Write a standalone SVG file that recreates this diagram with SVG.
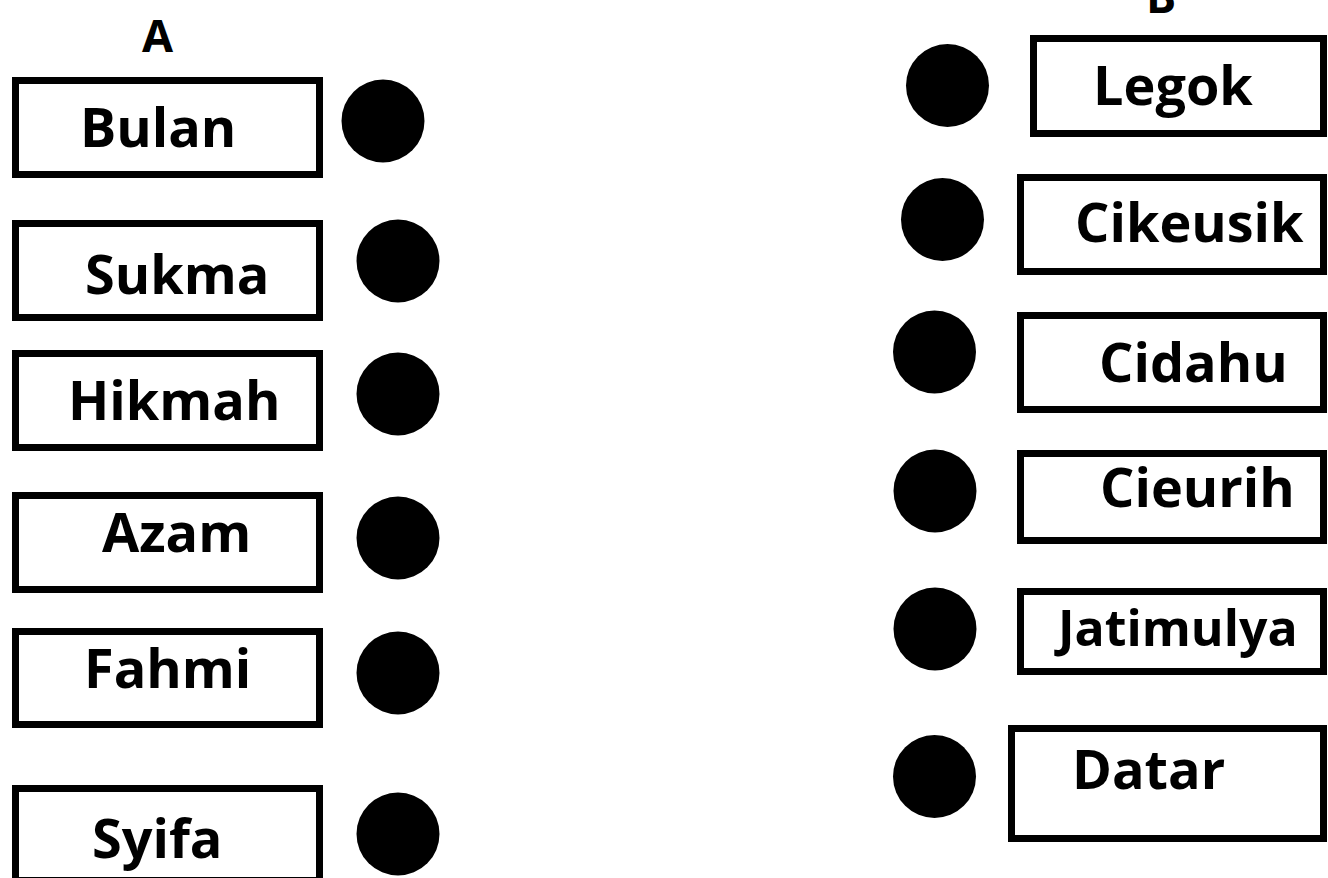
<svg xmlns="http://www.w3.org/2000/svg" width="1328" height="878" viewBox="0 0 1328 878">
<style>
.box{fill:#fff;stroke:#000;stroke-width:7}
.dot{fill:#000}
.lbl{font-family:"Open Sans","Liberation Sans",sans-serif;font-weight:700;font-size:54px;fill:#000}
.hdr{font-family:"Open Sans","Liberation Sans",sans-serif;font-weight:700;font-size:45px;fill:#000;text-anchor:middle}
</style>
<rect width="1328" height="878" fill="#fff"/>
<text class="hdr" x="157.5" y="52">A</text>
<text class="hdr" x="1161" y="13">B</text>
<g id="connectors"></g>
<g id="a-bulan"><rect class="box" x="15.5" y="80.5" width="304" height="94"/><text class="lbl" x="80" y="147">Bulan</text><circle class="dot" cx="383" cy="121" r="41.5"/></g>
<g id="a-sukma"><rect class="box" x="15.5" y="223.5" width="304" height="94"/><text class="lbl" x="85" y="294">Sukma</text><circle class="dot" cx="398" cy="261" r="41.5"/></g>
<g id="a-hikmah"><rect class="box" x="15.5" y="353.5" width="304" height="94"/><text class="lbl" x="68" y="420">Hikmah</text><circle class="dot" cx="398" cy="394" r="41.5"/></g>
<g id="a-azam"><rect class="box" x="15.5" y="495.5" width="304" height="94"/><text class="lbl" x="102" y="552">Azam</text><circle class="dot" cx="398" cy="538" r="41.5"/></g>
<g id="a-fahmi"><rect class="box" x="15.5" y="631.5" width="304" height="93"/><text class="lbl" x="84" y="688">Fahmi</text><circle class="dot" cx="398" cy="673" r="41.5"/></g>
<g id="a-syifa"><rect class="box" x="15.5" y="788.5" width="304" height="92"/><text class="lbl" x="92" y="858">Syifa</text><circle class="dot" cx="398" cy="834" r="41.5"/></g>
<g id="b-legok"><rect class="box" x="1033.5" y="38.5" width="290" height="95"/><text class="lbl" x="1093" y="105">Legok</text><circle class="dot" cx="947.5" cy="85.5" r="41.5"/></g>
<g id="b-cikeusik"><rect class="box" x="1020.5" y="177.5" width="303" height="94"/><text class="lbl" x="1075" y="242">Cikeusik</text><circle class="dot" cx="942.5" cy="219.5" r="41.5"/></g>
<g id="b-cidahu"><rect class="box" x="1020.5" y="315.5" width="303" height="94"/><text class="lbl" x="1099" y="382">Cidahu</text><circle class="dot" cx="934.5" cy="352" r="41.5"/></g>
<g id="b-cieurih"><rect class="box" x="1020.5" y="453.5" width="303" height="87"/><text class="lbl" x="1100" y="507">Cieurih</text><circle class="dot" cx="935" cy="491" r="41.5"/></g>
<g id="b-jatimulya"><rect class="box" x="1020.5" y="591.5" width="303" height="80"/><text class="lbl" x="1058" y="646" style="font-size:50px">Jatimulya</text><circle class="dot" cx="935" cy="629" r="41.5"/></g>
<g id="b-datar"><rect class="box" x="1011.5" y="728.5" width="312" height="110"/><text class="lbl" x="1072" y="789">Datar</text><circle class="dot" cx="934.5" cy="776.5" r="41.5"/></g>
</svg>
